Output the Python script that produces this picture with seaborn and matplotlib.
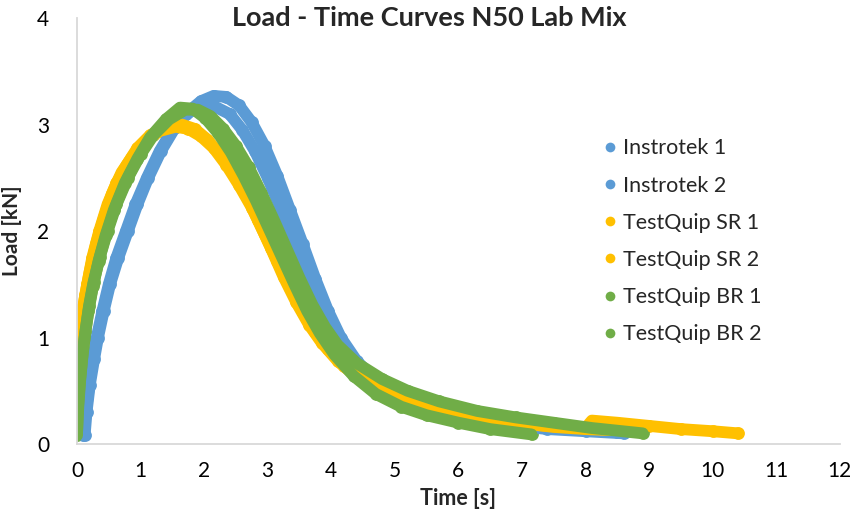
import numpy as np
import pandas as pd
import matplotlib
matplotlib.use("Agg")
import matplotlib.pyplot as plt
from matplotlib.lines import Line2D
import seaborn as sns

# ---- data ----
inst1_x = [0.12, 0.15, 0.2, 0.27, 0.33, 0.42, 0.52, 0.65, 0.8, 0.95, 1.12, 1.32, 1.55, 1.75, 1.95, 2.15, 2.35,
           2.55, 2.75, 2.95, 3.15, 3.35, 3.55, 3.75, 3.95, 4.15, 4.4, 4.7, 5.0, 5.4, 5.8, 6.3, 6.8, 7.4, 8.0, 8.5]
inst1_y = [0.08, 0.3, 0.55, 0.8, 1.0, 1.25, 1.5, 1.75, 2.0, 2.25, 2.5, 2.75, 2.98, 3.12, 3.22, 3.27, 3.26,
           3.18, 3.02, 2.8, 2.52, 2.2, 1.88, 1.55, 1.25, 1.0, 0.78, 0.6, 0.48, 0.38, 0.31, 0.25, 0.2, 0.16, 0.13, 0.11]

inst2_x = [0.1, 0.14, 0.19, 0.25, 0.31, 0.4, 0.5, 0.62, 0.77, 0.92, 1.1, 1.3, 1.52, 1.72, 1.92, 2.1, 2.4,
           2.6, 2.8, 3.0, 3.2, 3.4, 3.6, 3.8, 4.0, 4.2, 4.45, 4.75, 5.05, 5.4, 5.8, 6.3, 6.8, 7.4, 8.0, 8.6]
inst2_y = [0.08, 0.3, 0.55, 0.8, 1.0, 1.25, 1.5, 1.75, 2.0, 2.25, 2.5, 2.75, 2.97, 3.1, 3.17, 3.19, 3.1,
           2.95, 2.75, 2.5, 2.22, 1.92, 1.62, 1.33, 1.1, 0.9, 0.72, 0.56, 0.45, 0.35, 0.28, 0.22, 0.18, 0.14, 0.12, 0.1]

sr1_x = [0.0, 0.0, 0.01, 0.03, 0.06, 0.1, 0.16, 0.24, 0.35, 0.48, 0.62, 0.78, 0.95, 1.15, 1.4, 1.65, 1.85,
         2.05, 2.25, 2.45, 2.65, 2.85, 3.05, 3.25, 3.45, 3.65, 3.85, 4.1, 4.4, 4.8, 5.2, 5.7, 6.2, 6.8, 7.4,
         8.0, 8.1, 8.5, 9.0, 9.5, 10.0, 10.4]
sr1_y = [0.1, 0.3, 0.6, 0.85, 1.1, 1.3, 1.5, 1.75, 2.0, 2.25, 2.45, 2.62, 2.78, 2.9, 2.98, 3.0, 2.96,
         2.86, 2.72, 2.55, 2.35, 2.1, 1.84, 1.57, 1.33, 1.12, 0.95, 0.78, 0.63, 0.5, 0.4, 0.32, 0.26, 0.21, 0.17,
         0.15, 0.22, 0.2, 0.17, 0.14, 0.12, 0.1]

sr2_x = [0.0, 0.0, 0.02, 0.04, 0.08, 0.13, 0.2, 0.3, 0.42, 0.55, 0.7, 0.87, 1.05, 1.3, 1.55, 1.75, 1.95,
         2.15, 2.35, 2.55, 2.75, 2.95, 3.15, 3.35, 3.55, 3.75, 3.95, 4.2, 4.5, 4.9, 5.3, 5.8, 6.3, 6.9, 7.5,
         8.0, 8.4]
sr2_y = [0.15, 0.45, 0.7, 0.95, 1.2, 1.4, 1.62, 1.88, 2.12, 2.35, 2.55, 2.7, 2.83, 2.94, 2.98, 2.96, 2.89,
         2.78, 2.62, 2.43, 2.22, 1.97, 1.72, 1.47, 1.24, 1.05, 0.89, 0.73, 0.6, 0.48, 0.39, 0.31, 0.25, 0.2, 0.16,
         0.14, 0.13]

br1_x = [0.0, 0.02, 0.05, 0.09, 0.13, 0.19, 0.26, 0.36, 0.48, 0.62, 0.8, 1.0, 1.2, 1.45, 1.7, 1.9, 2.1,
         2.3, 2.5, 2.7, 2.9, 3.1, 3.3, 3.5, 3.7, 3.9, 4.1, 4.4, 4.8, 5.2, 5.7, 6.3, 6.9, 7.5, 8.1, 8.9]
br1_y = [0.1, 0.35, 0.6, 0.85, 1.05, 1.3, 1.52, 1.76, 2.0, 2.25, 2.5, 2.72, 2.9, 3.05, 3.14, 3.14, 3.08,
         2.96, 2.8, 2.6, 2.36, 2.1, 1.83, 1.56, 1.31, 1.1, 0.93, 0.76, 0.61, 0.5, 0.4, 0.31, 0.25, 0.2, 0.15, 0.1]

br2_x = [0.0, 0.01, 0.04, 0.08, 0.12, 0.18, 0.25, 0.34, 0.45, 0.58, 0.75, 0.95, 1.15, 1.4, 1.62, 1.82, 2.02,
         2.22, 2.42, 2.62, 2.82, 3.02, 3.22, 3.42, 3.62, 3.82, 4.05, 4.35, 4.7, 5.1, 5.5, 6.0, 6.5, 7.15]
br2_y = [0.08, 0.3, 0.55, 0.8, 1.0, 1.25, 1.48, 1.72, 1.96, 2.2, 2.45, 2.68, 2.88, 3.05, 3.16, 3.15, 3.06,
         2.92, 2.74, 2.52, 2.28, 2.02, 1.76, 1.5, 1.25, 1.04, 0.84, 0.64, 0.47, 0.35, 0.27, 0.2, 0.14, 0.09]

series_names = ["Instrotek 1", "Instrotek 2", "TestQuip SR 1", "TestQuip SR 2", "TestQuip BR 1", "TestQuip BR 2"]
series_x = [inst1_x, inst2_x, sr1_x, sr2_x, br1_x, br2_x]
series_y = [inst1_y, inst2_y, sr1_y, sr2_y, br1_y, br2_y]
x_ticks = list(range(0, 13))
y_ticks = [0, 1, 2, 3, 4]

BLUE, YELLOW, GREEN = "#5B9BD5", "#FFC000", "#70AD47"
palette = {"Instrotek 1": BLUE, "Instrotek 2": BLUE,
           "TestQuip SR 1": YELLOW, "TestQuip SR 2": YELLOW,
           "TestQuip BR 1": GREEN, "TestQuip BR 2": GREEN}

rows = []
for name, xs, ys in zip(series_names, series_x, series_y):
    for i, (xv, yv) in enumerate(zip(xs, ys)):
        rows.append({"series": name, "order": i, "Time": xv, "Load": yv})
df = pd.DataFrame(rows)

sns.set_theme(style="white")
plt.rcParams['font.family'] = ['Lato', 'DejaVu Sans']

fig = plt.figure(figsize=(8.5, 5.19), dpi=100)
ax = fig.add_axes([0.0906, 0.1445, 0.8974, 0.8205])

for name in series_names:
    sub = df[df["series"] == name].sort_values("order")
    sns.lineplot(data=sub, x="Time", y="Load", sort=False, estimator=None, ax=ax,
                 color=palette[name], linewidth=8.5, solid_capstyle="round",
                 solid_joinstyle="round", legend=False)
    sns.scatterplot(data=sub, x="Time", y="Load", ax=ax, color=palette[name],
                    s=85, linewidth=0, legend=False)

ax.set_xlim(0, 12)
ax.set_ylim(0, 4)
ax.set_xticks(x_ticks)
ax.set_yticks(y_ticks)
ax.tick_params(axis="both", length=0, labelsize=15, colors="#000000")
ax.tick_params(axis="y", pad=20)
ax.tick_params(axis="x", pad=12)
for s in ["top", "right"]:
    ax.spines[s].set_visible(False)
for s in ["left", "bottom"]:
    ax.spines[s].set_color("#D9D9D9")
    ax.spines[s].set_linewidth(1.3)
ax.grid(False)

ax.set_xlabel("Time [s]", fontsize=15.5, fontweight="bold", labelpad=5)
ax.set_ylabel("Load [kN]", fontsize=15, fontweight="bold", labelpad=11)

fig.text(0.505, 0.965, "Load - Time Curves N50 Lab Mix", ha="center", va="center",
         fontsize=19.5, fontweight="bold")

handles = [Line2D([0], [0], marker="o", linestyle="none", markersize=7,
                  markerfacecolor=palette[n], markeredgewidth=0) for n in series_names]
leg = ax.legend(handles, series_names, loc="upper left", bbox_to_anchor=(0.695, 0.75),
                bbox_transform=fig.transFigure, frameon=False, fontsize=15.5,
                handletextpad=0.1, labelspacing=0.8, handlelength=1.0, borderaxespad=0)

fig.savefig("out.png", dpi=100)
